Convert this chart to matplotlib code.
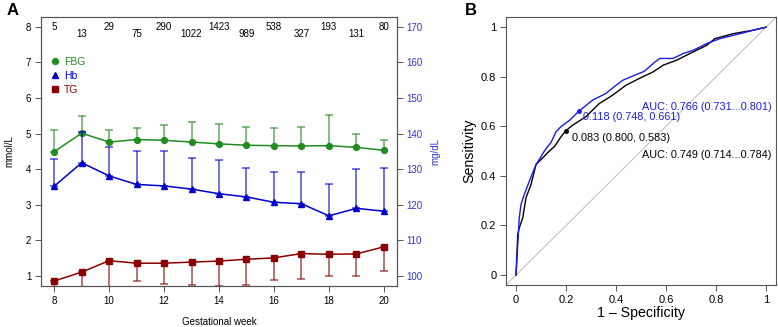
import numpy as np
import matplotlib
matplotlib.use("Agg")
import matplotlib.pyplot as plt
from matplotlib.lines import Line2D

plt.rcParams['font.family'] = ['Liberation Sans', 'DejaVu Sans']

# ---- panel A data ----
weeks = [8, 9, 10, 11, 12, 13, 14, 15, 16, 17, 18, 19, 20]
n_women = [5, 13, 29, 75, 290, 1022, 1423, 989, 538, 327, 193, 131, 80]

fbg_mean = [4.49, 5.01, 4.76, 4.83, 4.81, 4.76, 4.71, 4.67, 4.66, 4.65, 4.66, 4.61, 4.53]
fbg_sd = [0.61, 0.48, 0.34, 0.33, 0.44, 0.56, 0.56, 0.52, 0.49, 0.53, 0.85, 0.39, 0.30]

hb_mean = [125.2, 131.8, 128.1, 125.7, 125.3, 124.4, 123.1, 122.2, 120.7, 120.3, 116.9, 119.0, 118.2]
hb_sd = [7.6, 8.5, 8.0, 9.3, 9.7, 8.7, 9.5, 8.1, 8.6, 9.0, 8.8, 11.1, 12.2]

tg_mean = [0.86, 1.11, 1.43, 1.36, 1.36, 1.39, 1.42, 1.47, 1.51, 1.63, 1.61, 1.62, 1.82]
tg_sd = [0.50, 0.60, 0.90, 0.51, 0.57, 0.65, 0.69, 0.73, 0.62, 0.71, 0.62, 0.61, 0.67]

# ---- panel B data (1 - specificity, sensitivity) ----
roc_blue_x = [0.0, 0.007, 0.013, 0.02, 0.033, 0.053, 0.08, 0.093, 0.107, 0.12, 0.14, 0.16, 0.18,
              0.215, 0.252, 0.307, 0.36, 0.393, 0.427, 0.467, 0.513, 0.556, 0.576, 0.629, 0.669,
              0.709, 0.763, 0.816, 0.896, 0.949, 1.0]
roc_blue_y = [0.0, 0.124, 0.231, 0.285, 0.325, 0.378, 0.446, 0.466, 0.49, 0.51, 0.535, 0.578, 0.599,
              0.625, 0.662, 0.706, 0.733, 0.760, 0.786, 0.803, 0.822, 0.86, 0.874, 0.874, 0.894,
              0.907, 0.934, 0.954, 0.974, 0.988, 1.0]
roc_black_x = [0.0, 0.007, 0.013, 0.027, 0.04, 0.06, 0.08, 0.107, 0.133, 0.155, 0.18, 0.2, 0.227,
               0.28, 0.333, 0.387, 0.44, 0.493, 0.549, 0.589, 0.643, 0.696, 0.763, 0.796, 0.869,
               0.949, 1.0]
roc_black_y = [0.0, 0.164, 0.19, 0.231, 0.312, 0.365, 0.446, 0.473, 0.5, 0.52, 0.558, 0.583, 0.605,
               0.639, 0.692, 0.726, 0.766, 0.793, 0.82, 0.847, 0.867, 0.894, 0.927, 0.954, 0.974,
               0.988, 1.0]
thr_blue = (1 - 0.748, 0.661)
thr_black = (1 - 0.800, 0.583)

green = '#228B22'
blue = '#0000CD'
red = '#8B0000'
spine_col = '#555555'

fig = plt.figure(figsize=(7.78, 3.27), dpi=100)

# ================= panel A =================
ax = fig.add_axes([0.0527, 0.1254, 0.4576, 0.8236])
ax2 = ax.twinx()

ax.set_xlim(7.52, 20.48)
ax.set_ylim(0.72, 8.28)
ax2.set_ylim(97.2, 172.8)

zeros = np.zeros(len(weeks))
# FBG (left axis), bars upwards
ax.errorbar(weeks, fbg_mean, yerr=[zeros, fbg_sd], fmt='none',
            ecolor=green, alpha=0.7, elinewidth=1.1, capsize=3.1, capthick=1.1)
ax.plot(weeks, fbg_mean, color=green, marker='o', ms=4.2, lw=1.1)

# TG (left axis), bars downwards
ax.errorbar(weeks, tg_mean, yerr=[tg_sd, zeros], fmt='none',
            ecolor=red, alpha=0.7, elinewidth=1.1, capsize=3.1, capthick=1.1)
ax.plot(weeks, tg_mean, color=red, marker='s', ms=3.8, lw=1.1)

# Hb (right axis), bars upwards
ax2.errorbar(weeks, hb_mean, yerr=[zeros, hb_sd], fmt='none',
             ecolor=blue, alpha=0.7, elinewidth=1.1, capsize=3.1, capthick=1.1)
ax2.plot(weeks, hb_mean, color=blue, marker='^', ms=4.2, lw=1.1)

# sample sizes along the top
for i, (w, n) in enumerate(zip(weeks, n_women)):
    ax.text(w, 8.0 if i % 2 == 0 else 7.78, str(n), ha='center', va='center', fontsize=7)

ax.set_xticks([8, 10, 12, 14, 16, 18, 20])
ax.set_yticks([1, 2, 3, 4, 5, 6, 7, 8])
ax2.set_yticks([100, 110, 120, 130, 140, 150, 160, 170])
ax.tick_params(labelsize=7, length=4, width=0.7, color=spine_col, pad=3)
ax2.tick_params(labelsize=7, length=4, width=0.7, color=spine_col, pad=3, labelcolor='#3333CC')
for a in (ax, ax2):
    for s in a.spines.values():
        s.set_color(spine_col)
        s.set_linewidth(0.8)

ax.set_xlabel('Gestational week', fontsize=7, labelpad=8)
ax.set_ylabel('mmol/L', fontsize=7, labelpad=8)
ax2.set_ylabel('mg/dL', fontsize=7, color='#3333CC', labelpad=5)

handles = [Line2D([], [], color=green, marker='o', ls='none', ms=4.2),
           Line2D([], [], color=blue, marker='^', ls='none', ms=4.2),
           Line2D([], [], color=red, marker='s', ls='none', ms=3.8)]
leg = ax2.legend(handles, ['FBG', 'Hb', 'TG'], loc='upper left', bbox_to_anchor=(0.027, 0.85),
                 frameon=False, fontsize=7.5, handlelength=0.8, handletextpad=0.45,
                 labelspacing=0.38, borderpad=0, borderaxespad=0)
for t, c in zip(leg.get_texts(), [green, blue, red]):
    t.set_color(c)

fig.text(0.009, 0.967, 'A', fontsize=12, fontweight='bold', va='center')

# ================= panel B =================
bx = fig.add_axes([0.6504, 0.1285, 0.3470, 0.8186])
bx.set_xlim(-0.04, 1.04)
bx.set_ylim(-0.04, 1.04)
bx.plot([-0.04, 1.04], [-0.04, 1.04], color='#BBBBBB', lw=0.7)
bx.plot(roc_black_x, roc_black_y, color='black', lw=1.0)
bx.plot(roc_blue_x, roc_blue_y, color='#1A1AE6', lw=1.0)

bx.plot(*thr_black, 'o', color='black', ms=2.5)
bx.plot(*thr_blue, 'o', color='#1A1AE6', ms=2.5)
bx.annotate('0.083 (0.800, 0.583)', thr_black, xytext=(4, -5), textcoords='offset points',
            fontsize=7.8, va='center', ha='left', color='black')
bx.annotate('0.118 (0.748, 0.661)', thr_blue, xytext=(3, -4), textcoords='offset points',
            fontsize=7.8, va='center', ha='left', color='#1A1AE6')
bx.text(1.023, 0.68, 'AUC: 0.766 (0.731...0.801)', fontsize=7.8, ha='right', va='center',
        color='#1A1AE6')
bx.text(1.023, 0.486, 'AUC: 0.749 (0.714...0.784)', fontsize=7.8, ha='right', va='center',
        color='black')

ticks_b = [0, 0.2, 0.4, 0.6, 0.8, 1]
bx.set_xticks(ticks_b)
bx.set_yticks(ticks_b)
bx.set_xticklabels(['0', '0.2', '0.4', '0.6', '0.8', '1'])
bx.set_yticklabels(['0', '0.2', '0.4', '0.6', '0.8', '1'])
bx.tick_params(labelsize=8, length=4, width=0.7, color=spine_col, pad=3)
for s in bx.spines.values():
    s.set_color(spine_col)
    s.set_linewidth(0.8)
bx.set_xlabel('1 \u2013 Specificity', fontsize=10.2, labelpad=1)
bx.set_ylabel('Sensitivity', fontsize=10.2, labelpad=3)

fig.text(0.598, 0.967, 'B', fontsize=12, fontweight='bold', va='center')

fig.savefig('out.png', dpi=100)
